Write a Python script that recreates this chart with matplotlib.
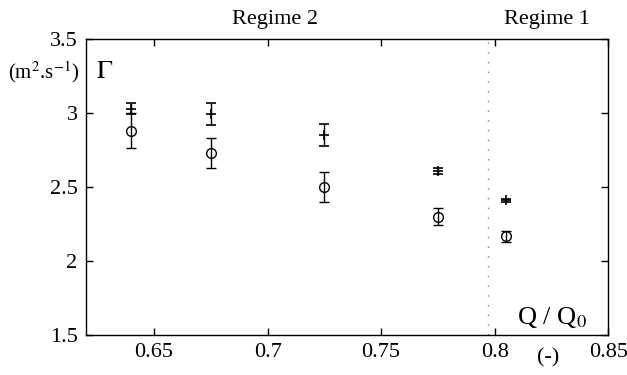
import matplotlib
matplotlib.use("Agg")
import matplotlib.pyplot as plt
from matplotlib.ticker import FuncFormatter

plt.rcParams['font.family'] = ['Liberation Serif', 'DejaVu Serif']
plt.rcParams['mathtext.fontset'] = 'stix'
plt.rcParams['font.size'] = 16

# Q/Q0 values
q_ratio = [0.64, 0.675, 0.725, 0.775, 0.805]

# circles
gamma_o = [2.88, 2.73, 2.50, 2.30, 2.165]
err_o = [0.12, 0.10, 0.10, 0.06, 0.035]

# pluses
gamma_p = [3.03, 2.995, 2.853, 2.605, 2.41]
err_p = [0.035, 0.075, 0.075, 0.02, 0.01]

regime_limit = 0.797

fig = plt.figure(figsize=(6.27, 3.75), dpi=100)
ax = fig.add_axes([0.137, 0.107, 0.833, 0.789])

ax.errorbar(q_ratio, gamma_o, yerr=err_o, fmt='o', color='black', mfc='none',
            ms=7, mew=1.0, elinewidth=1.0, capsize=3.5, capthick=1.0)
ax.errorbar(q_ratio, gamma_p, yerr=err_p, fmt='+', color='black',
            ms=7, mew=1.2, elinewidth=1.0, capsize=3.5, capthick=1.0)

ax.axvline(regime_limit, color='gray', lw=1.0, ls=(0, (1, 6)))

ax.set_xlim(0.62, 0.85)
ax.set_ylim(1.5, 3.5)
ax.set_xticks([0.65, 0.7, 0.75, 0.8, 0.85])
ax.set_yticks([1.5, 2, 2.5, 3, 3.5])
fmt = FuncFormatter(lambda v, p: '%g' % v)
ax.xaxis.set_major_formatter(fmt)
ax.yaxis.set_major_formatter(fmt)
ax.tick_params(direction='in', top=True, right=True, length=5, width=1.0,
               labelsize=16, pad=6)
for s in ax.spines.values():
    s.set_linewidth(1.0)

fig.text(0.012, 0.808, r'(m$^2$.s$^{-1}$)', fontsize=15, va='center', ha='left')
ax.text(0.02, 0.89, r'$\Gamma$', transform=ax.transAxes, fontsize=19,
        va='center', ha='left')
fig.text(0.438, 0.948, 'Regime 2', fontsize=16, ha='center', va='center')
fig.text(0.873, 0.948, 'Regime 1', fontsize=16, ha='center', va='center')
ax.text(0.96, 0.06, r'Q / Q$_0$', transform=ax.transAxes, fontsize=19,
        ha='right', va='center')
fig.text(0.874, 0.045, '(-)', fontsize=16, ha='center', va='center')

fig.savefig('out.png', dpi=100)
